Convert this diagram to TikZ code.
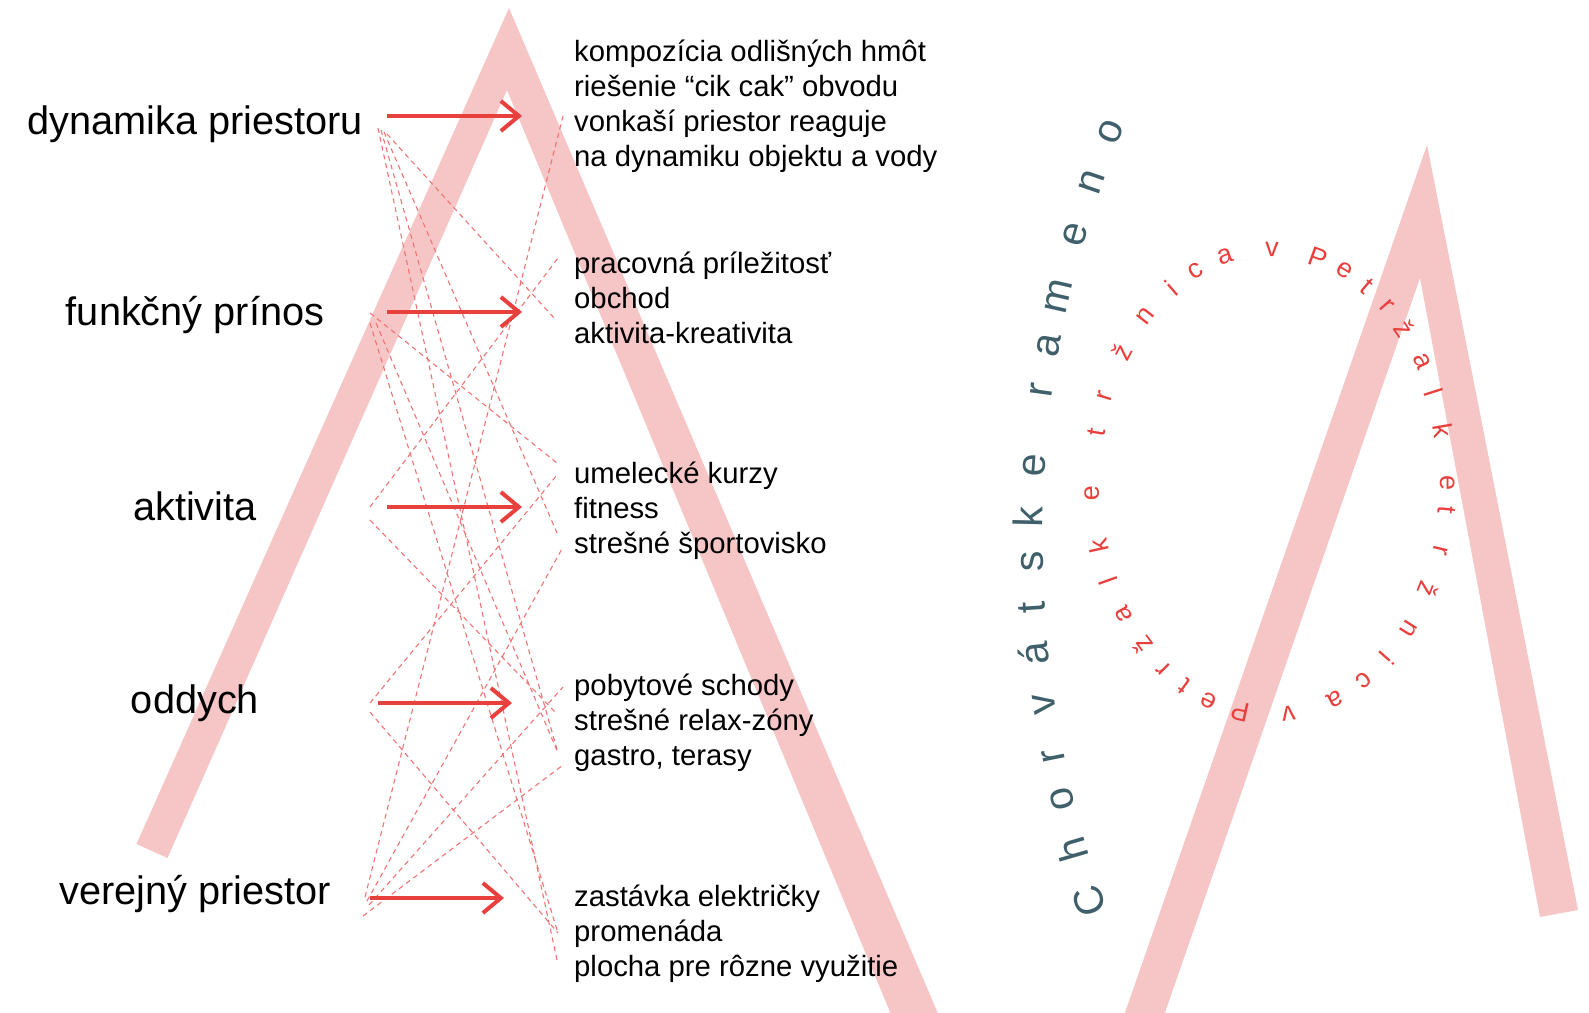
\documentclass[tikz,border=0pt]{standalone}
\usepackage{fontspec}
\setmainfont{Liberation Sans}
\usetikzlibrary{arrows.meta}
\definecolor{bandc}{HTML}{F6C5C5}
\definecolor{myred}{HTML}{E8403D}
\definecolor{dashred}{HTML}{F07474}
\definecolor{slate}{HTML}{3F5F6B}
\begin{document}
\begin{tikzpicture}[x=1pt,y=-1pt,
  lbl/.style={font=\fontsize{39.7}{47}\selectfont, anchor=base, inner sep=0pt},
  rtxt/.style={font=\fontsize{29.3}{35}\selectfont, anchor=base west, inner sep=0pt},
  link/.style={draw=dashred, line width=1.1pt, dash pattern=on 5pt off 4pt},
  arr/.style={draw=myred, line width=4pt, -{Straight Barb[length=18pt,width=30pt]}},
  circ/.style={font=\fontsize{27}{30}\selectfont, text=myred, inner sep=0pt},
  vtxt/.style={font=\fontsize{41}{45}\selectfont, text=slate, inner sep=0pt, anchor=base},
]
\clip (0,0) rectangle (1589,1012);
\fill[white] (0,0) rectangle (1589,1012);

% big Lambda shapes
\fill[bandc] (136.5,844) -- (509,8) -- (945,1030) -- (897.5,1030) -- (507,90) -- (167.5,858) -- cycle;
\fill[bandc] (1112,1050) -- (1427,145) -- (1578,910) -- (1540,917) -- (1420,278) -- (1152,1050) -- cycle;

% endpoints of dashed links
\coordinate (l1a) at (378,128); \coordinate (l1b) at (381,130);
\coordinate (l1c) at (384,132); \coordinate (l1d) at (387,134);
\coordinate (l2a) at (370,313); \coordinate (l2b) at (370,323); \coordinate (l2c) at (376,323);
\coordinate (l3a) at (370,507); \coordinate (l3b) at (370,520);
\coordinate (l4a) at (370,703); \coordinate (l4b) at (370,712);
\coordinate (l5a) at (365,897); \coordinate (l5b) at (367,901);
\coordinate (l5c) at (369,905); \coordinate (l5d) at (363,916);
\coordinate (ra) at (563,116); \coordinate (rb) at (558,258); \coordinate (rc) at (555,319);
\coordinate (rd) at (557,463); \coordinate (re) at (557,475); \coordinate (rf) at (557,533);
\coordinate (rg) at (563,547); \coordinate (rh) at (563,687); \coordinate (ri) at (557,714);
\coordinate (rj) at (558,753); \coordinate (rk) at (563,765); \coordinate (rl) at (558,933);
\coordinate (rm) at (557,960);

\draw[link] (l1a) -- (rm);
\draw[link] (l1b) -- (rj);
\draw[link] (l1c) -- (rf);
\draw[link] (l1d) -- (rc);
\draw[link] (l2a) -- (rd);
\draw[link] (l2b) -- (rl);
\draw[link] (l2c) -- (rj);
\draw[link] (l3a) -- (rb);
\draw[link] (l3b) -- (ri);
\draw[link] (l4a) -- (re);
\draw[link] (l4b) -- (rl);
\draw[link] (l5a) -- (ra);
\draw[link] (l5b) -- (rg);
\draw[link] (l5c) -- (rh);
\draw[link] (l5d) -- (rk);

% arrows
\coordinate (a1s) at (387,116); \coordinate (a1e) at (522,116);
\coordinate (a2s) at (387,312); \coordinate (a2e) at (522,312);
\coordinate (a3s) at (387,507); \coordinate (a3e) at (522,507);
\coordinate (a4s) at (378,703); \coordinate (a4e) at (512,703);
\coordinate (a5s) at (370,898); \coordinate (a5e) at (504,898);
\draw[arr] (a1s) -- (a1e);
\draw[arr] (a2s) -- (a2e);
\draw[arr] (a3s) -- (a3e);
\draw[arr] (a4s) -- (a4e);
\draw[arr] (a5s) -- (a5e);

% left labels
\node[lbl] (k1) at (195,134) {dynamika priestoru};
\node[lbl] (k2) at (195,325) {funkčný prínos};
\node[lbl] (k3) at (195,520) {aktivita};
\node[lbl] (k4) at (195,713) {oddych};
\node[lbl] (k5) at (195,904) {verejný priestor};

% right text blocks
\foreach \t [count=\i] in {kompozícia odlišných hmôt, riešenie “cik cak” obvodu, vonkaší priestor reaguje, na dynamiku objektu a vody}
  \node[rtxt] (ba\i) at (574,{61+35.2*(\i-1)}) {\t};
\foreach \t [count=\i] in {pracovná príležitosť, obchod, aktivita-kreativita}
  \node[rtxt] (bb\i) at (574,{273+35.2*(\i-1)}) {\t};
\foreach \t [count=\i] in {umelecké kurzy, fitness, strešné športovisko}
  \node[rtxt] (bc\i) at (574,{483+35.2*(\i-1)}) {\t};
\foreach \t [count=\i] in {pobytové schody, strešné relax-zóny, {gastro, terasy}}
  \node[rtxt] (bd\i) at (574,{695+35.2*(\i-1)}) {\t};
\foreach \t [count=\i] in {zastávka električky, promenáda, plocha pre rôzne využitie}
  \node[rtxt] (be\i) at (574,{906+35.2*(\i-1)}) {\t};

% text on a wide arc: Chorvátske rameno
\foreach \p/\ch [count=\n] in {199.1/C, 196.3/h, 193.6/o, 191.3/r, 188.6/v, 185.9/á, 183.5/t, 181.1/s,
  178.8/k, 176.1/e, 172.2/r, 169.8/a, 167.2/m, 163.9/e, 161.0/n, 158.2/o}
  \node[vtxt, rotate={\p-90}] (vt\n) at ({2131.6+1089*cos(\p)},{540-1089*sin(\p)}) {\ch};

% circular text
\foreach \a/\ch [count=\n] in {89.4/v, 74.4/P, 65.4/e, 57.2/t, 49.0/r, 41.1/ž, 31.3/a, 22.7/l, 12.8/k, -0.2/e,
  -6.9/t, -17.0/r, -27.4/ž, -39.0/n, -49.0/i, -58.3/c, -68.7/a, -84.1/v, -99.7/P, -110.2/e,
  -118.9/t, -127.0/r, -135.7/ž, -145.5/a, -155.0/l, -164.0/k, -177.3/e, 167.6/t, 158.4/r, 146.1/ž,
  134.5/n, 123.6/i, 114.8/c, 104.4/a}
  \node[circ, rotate={atan2(-233*cos(\a),178*sin(\a))}] (cc\n) at ({1270+178*cos(\a)},{482-233*sin(\a)}) {\ch};
\end{tikzpicture}
\end{document}
